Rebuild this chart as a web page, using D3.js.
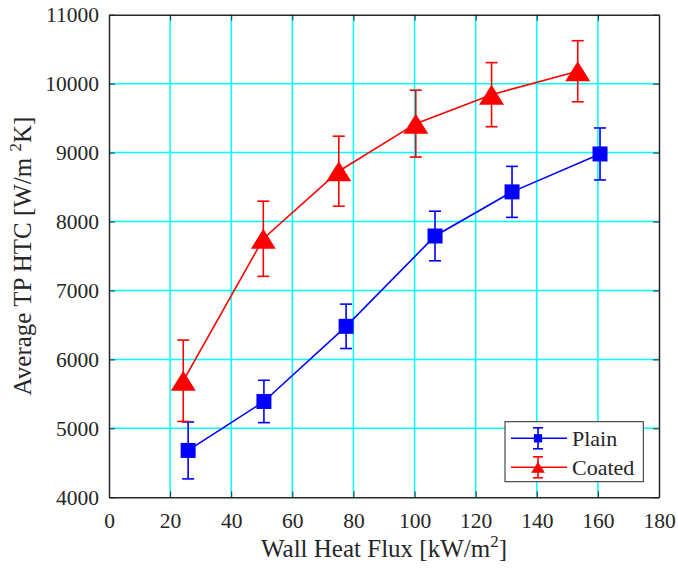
<!DOCTYPE html>
<html><head><meta charset="utf-8">
<script src="https://cdn.jsdelivr.net/npm/d3@7"></script>
<style>body{margin:0;background:#fff}svg{display:block}text{font-family:"Liberation Serif","Times New Roman",serif;fill:#262626}</style>
</head><body>
<svg id="c" width="678" height="573"></svg>
<script>
const xTicks = [0,20,40,60,80,100,120,140,160,180];
const yTicks = [4000,5000,6000,7000,8000,9000,10000,11000];
const plainX = [25.9, 50.7, 77.6, 106.7, 131.9, 160.7];
const plainY = [4680, 5390, 6480, 7790, 8430, 8980];
const plainErr = [413, 307, 322, 360, 370, 377];
const coatedX = [24.3, 50.5, 75.2, 100.4, 125.2, 153.4];
const coatedY = [5690, 7750, 8730, 9420, 9840, 10180];
const coatedErr = [590, 545, 508, 485, 465, 443];
const seriesNames = ["Plain","Coated"];
const seriesColors = ["#0000ff","#ff0000"];

const svg = d3.select("#c");
const L=109, R=659, T=14.7, B=497.3;
const x = d3.scaleLinear().domain([0,180]).range([L,R]);
const y = d3.scaleLinear().domain([4000,11000]).range([B,T]);
const axisColor = "#262626";

// grid
const g = svg.append("g");
g.selectAll(".gx").data(xTicks.slice(1,-1)).enter().append("line")
  .attr("x1",d=>x(d)).attr("x2",d=>x(d)).attr("y1",T).attr("y2",B)
  .attr("stroke","#00ffff").attr("stroke-width",1.5);
g.selectAll(".gy").data(yTicks.slice(1,-1)).enter().append("line")
  .attr("y1",d=>y(d)).attr("y2",d=>y(d)).attr("x1",L).attr("x2",R)
  .attr("stroke","#00ffff").attr("stroke-width",1.5);

// axes
const fs = 21.5;
const fmt = d3.format("d");
const xAxis = d3.axisBottom(x).tickValues(xTicks).tickFormat(fmt).tickSizeInner(-6).tickSizeOuter(0).tickPadding(15);
const yAxis = d3.axisLeft(y).tickValues(yTicks).tickFormat(fmt).tickSizeInner(-6).tickSizeOuter(0).tickPadding(10);
const xa = svg.append("g").attr("transform",`translate(0,${B})`).call(xAxis);
const ya = svg.append("g").attr("transform",`translate(${L},0)`).call(yAxis);
const xt = svg.append("g").attr("transform",`translate(0,${T})`).call(d3.axisTop(x).tickValues(xTicks).tickSizeInner(-6).tickSizeOuter(0).tickFormat(""));
const yr = svg.append("g").attr("transform",`translate(${R},0)`).call(d3.axisRight(y).tickValues(yTicks).tickSizeInner(-6).tickSizeOuter(0).tickFormat(""));
[xa,ya,xt,yr].forEach(a=>{
  a.attr("font-family",null).attr("font-size",null);
  a.select(".domain").attr("stroke",axisColor).attr("stroke-width",1.5);
  a.selectAll(".tick line").attr("stroke",axisColor).attr("stroke-width",1);
  a.selectAll(".tick text").style("font-family","'Liberation Serif', serif").style("font-size",fs+"px").attr("fill","#262626");
});
xa.selectAll(".tick text").attr("dy","0.71em");

// axis labels
const xl = svg.append("text").attr("x",(L+R)/2).attr("y",557).attr("text-anchor","middle").style("font-size","25px");
xl.append("tspan").text("Wall Heat Flux [kW/m");
xl.append("tspan").attr("dy",-10).style("font-size","17px").text("2");
xl.append("tspan").attr("dy",10).text("]");

const yl = svg.append("text").attr("transform",`translate(31,${(T+B)/2}) rotate(-90)`).attr("text-anchor","middle").style("font-size","25px");
yl.append("tspan").text("Average TP HTC [W/m ");
yl.append("tspan").attr("dy",-10).style("font-size","17px").text("2");
yl.append("tspan").attr("dy",10).text("K]");

// series
const series = [
  {xs:plainX, ys:plainY, es:plainErr, color:seriesColors[0], marker:"square"},
  {xs:coatedX, ys:coatedY, es:coatedErr, color:seriesColors[1], marker:"triangle"}
];
const line = d3.line().x(d=>x(d[0])).y(d=>y(d[1]));
function drawMarker(sel, type, cx, cy, scale, color){
  if(type==="square"){
    const s=15*scale;
    sel.append("rect").attr("x",cx-s/2).attr("y",cy-s/2).attr("width",s).attr("height",s).attr("fill",color);
  } else {
    const w=25*scale, h=20*scale;
    sel.append("path").attr("d",`M${cx},${cy-h/2}L${cx+w/2},${cy+h/2}L${cx-w/2},${cy+h/2}Z`).attr("fill",color);
  }
}
series.forEach(s=>{
  const pts = s.xs.map((v,i)=>[v,s.ys[i],s.es[i]]);
  const sg = svg.append("g");
  sg.append("path").datum(pts).attr("d",line).attr("fill","none").attr("stroke",s.color).attr("stroke-width",1.6);
  pts.forEach(p=>{
    const cx=x(p[0]), top=y(p[1]+p[2]), bot=y(p[1]-p[2]);
    sg.append("line").attr("x1",cx).attr("x2",cx).attr("y1",top).attr("y2",bot).attr("stroke",s.color).attr("stroke-width",1.6);
    sg.append("line").attr("x1",cx-6).attr("x2",cx+6).attr("y1",top).attr("y2",top).attr("stroke",s.color).attr("stroke-width",1.6);
    sg.append("line").attr("x1",cx-6).attr("x2",cx+6).attr("y1",bot).attr("y2",bot).attr("stroke",s.color).attr("stroke-width",1.6);
    drawMarker(sg, s.marker, cx, y(p[1]), 1, s.color);
  });
});

// legend
const lg = svg.append("g");
lg.append("rect").attr("x",505).attr("y",421.7).attr("width",138.3).attr("height",60).attr("fill","#fff").attr("stroke",axisColor).attr("stroke-width",1);
[438.3, 467.3].forEach((ly,i)=>{
  const s=series[i];
  lg.append("line").attr("x1",511).attr("x2",567).attr("y1",ly).attr("y2",ly).attr("stroke",s.color).attr("stroke-width",1.6);
  lg.append("line").attr("x1",538).attr("x2",538).attr("y1",ly-10.5).attr("y2",ly+10.5).attr("stroke",s.color).attr("stroke-width",1.6);
  lg.append("line").attr("x1",533).attr("x2",543).attr("y1",ly-10.5).attr("y2",ly-10.5).attr("stroke",s.color).attr("stroke-width",1.6);
  lg.append("line").attr("x1",533).attr("x2",543).attr("y1",ly+10.5).attr("y2",ly+10.5).attr("stroke",s.color).attr("stroke-width",1.6);
  drawMarker(lg, s.marker, 538, ly, 0.55, s.color);
  lg.append("text").attr("x",572).attr("y",ly).attr("dy","0.35em").style("font-size","22px").text(seriesNames[i]);
});
</script>
</body></html>
